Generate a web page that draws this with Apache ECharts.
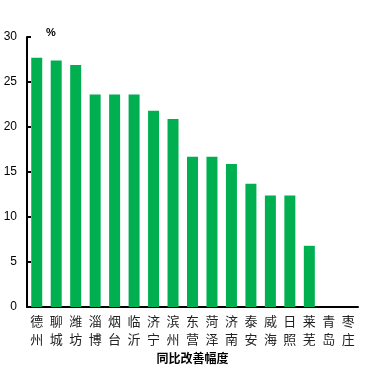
<!DOCTYPE html>
<html><head><meta charset="utf-8">
<script src="https://cdn.jsdelivr.net/npm/echarts@6/dist/echarts.min.js"></script>
<style>html,body{margin:0;padding:0;background:#fff}#c{width:370px;height:370px}</style>
</head><body><div id="c"></div>
<script>
var categories = ['德州','聊城','潍坊','淄博','烟台','临沂','济宁','滨州','东营','菏泽','济南','泰安','威海','日照','莱芜','青岛','枣庄'];
var values = [27.7, 27.4, 26.9, 23.6, 23.6, 23.6, 21.8, 20.9, 16.7, 16.7, 15.9, 13.7, 12.4, 12.4, 6.8, 0, 0];
var yTicks = [0, 5, 10, 15, 20, 25, 30];
var chart = echarts.init(document.getElementById('c'));
chart.setOption({
  animation: false,
  grid: {left: 27, right: 12, top: 37, bottom: 63},
  graphic: [{type: 'text', left: 46, top: 27, style: {text: '%', font: 'bold 11px "Liberation Sans", Arial', fill: '#000'}}],
  xAxis: {
    type: 'category', data: categories,
    name: '同比改善幅度', nameLocation: 'middle', nameGap: 41,
    nameTextStyle: {fontFamily: '"Noto Sans CJK SC"', fontWeight: 'bold', fontSize: 12, color: '#000'},
    axisLine: {lineStyle: {color: '#000', width: 2}},
    axisTick: {inside: true, length: 3, lineStyle: {color: '#000', width: 2}, alignWithLabel: false},
    axisLabel: {interval: 0, color: '#222', fontSize: 13, lineHeight: 18, fontFamily: '"Noto Sans CJK SC"', margin: 5,
      formatter: function (v) { return v.split('').join('\n'); }}
  },
  yAxis: {
    type: 'value', min: yTicks[0], max: yTicks[yTicks.length - 1], interval: 5,
    splitLine: {show: false},
    axisLine: {show: true, lineStyle: {color: '#000', width: 2}},
    axisTick: {show: true, inside: true, length: 4, lineStyle: {color: '#000', width: 2}},
    axisLabel: {color: '#000', fontSize: 12, fontFamily: '"Liberation Sans", Arial', margin: 10}
  },
  series: [{type: 'bar', data: values, barWidth: 11, itemStyle: {color: '#00B050'}}]
});
</script></body></html>
